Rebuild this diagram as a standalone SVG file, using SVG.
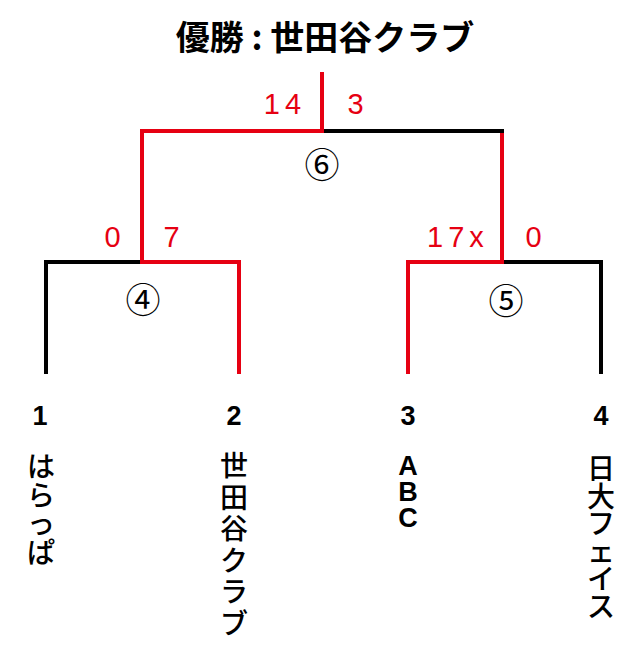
<svg xmlns="http://www.w3.org/2000/svg" width="636" height="662" viewBox="0 0 636 662">
<style>
.bk{stroke:#000;stroke-width:4;fill:none;stroke-linecap:square}
.rd{stroke:#e60012;stroke-width:4;fill:none;stroke-linecap:square}
.sc{font-family:"Liberation Sans","Noto Sans CJK JP",sans-serif;font-size:29px;fill:#e60012;text-anchor:middle;letter-spacing:5px}
.mn{font-family:"Noto Sans CJK JP",sans-serif;font-size:35px;fill:#000;text-anchor:middle}
.num{font-family:"Liberation Sans","Noto Sans CJK JP",sans-serif;font-weight:bold;font-size:27px;fill:#000;text-anchor:middle}
.tm{font-family:"Noto Sans CJK JP",sans-serif;font-weight:500;font-size:28px;fill:#000;text-anchor:middle}
.ab{font-family:"Liberation Sans","Noto Sans CJK JP",sans-serif;font-weight:bold;font-size:27px;fill:#000;text-anchor:middle}
.tt{font-family:"Noto Sans CJK JP",sans-serif;font-weight:bold;font-size:34px;fill:#000;text-anchor:middle}
</style>
<rect width="636" height="662" fill="#fff"/>
<g id="title"><text class="tt" x="325" y="50">優勝 : 世田谷クラブ</text></g>
<g id="connectors">
<line class="bk" x1="46" y1="262" x2="142" y2="262"/>
<line class="bk" x1="46" y1="262" x2="46" y2="372"/>
<line class="rd" x1="142" y1="262" x2="239" y2="262"/>
<line class="rd" x1="239" y1="262" x2="239" y2="372"/>
<line class="rd" x1="408" y1="262" x2="502" y2="262"/>
<line class="rd" x1="408" y1="262" x2="408" y2="372"/>
<line class="bk" x1="502" y1="262" x2="601" y2="262"/>
<line class="bk" x1="601" y1="262" x2="601" y2="372"/>
<line class="rd" x1="142" y1="131" x2="142" y2="262"/>
<line class="rd" x1="502" y1="131" x2="502" y2="262"/>
<line class="rd" x1="142" y1="131" x2="322" y2="131"/>
<line class="bk" x1="322" y1="131" x2="502" y2="131"/>
<line class="rd" x1="322" y1="74" x2="322" y2="131"/>
</g>
<g id="match6"><text class="mn" x="322" y="178">⑥</text><text class="sc" x="285" y="114">14</text><text class="sc" x="358" y="114">3</text></g>
<g id="match4"><text class="mn" x="143" y="313">④</text><text class="sc" x="115" y="247">0</text><text class="sc" x="174" y="247">7</text></g>
<g id="match5"><text class="mn" x="506" y="314">⑤</text><text class="sc" x="458" y="247">17x</text><text class="sc" x="536" y="247">0</text></g>
<g id="team1"><text class="num" x="40" y="425">1</text>
<text class="tm"><tspan x="41" y="477">は</tspan><tspan x="41" y="505.7">ら</tspan><tspan x="41" y="534.4">っ</tspan><tspan x="41" y="563">ぱ</tspan></text></g>
<g id="team2"><text class="num" x="234" y="425">2</text>
<text class="tm"><tspan x="234" y="476">世</tspan><tspan x="234" y="507.5">田</tspan><tspan x="234" y="539">谷</tspan><tspan x="234" y="570.5">ク</tspan><tspan x="234" y="602">ラ</tspan><tspan x="234" y="633.5">ブ</tspan></text></g>
<g id="team3"><text class="num" x="408" y="425">3</text>
<text class="ab"><tspan x="408" y="475">A</tspan><tspan x="408" y="501">B</tspan><tspan x="408" y="527">C</tspan></text></g>
<g id="team4"><text class="num" x="601" y="425">4</text>
<text class="tm"><tspan x="601" y="479">日</tspan><tspan x="601" y="506.6">大</tspan><tspan x="601" y="534.2">フ</tspan><tspan x="601" y="561.8">ェ</tspan><tspan x="601" y="589.4">イ</tspan><tspan x="601" y="617">ス</tspan></text></g>
</svg>
